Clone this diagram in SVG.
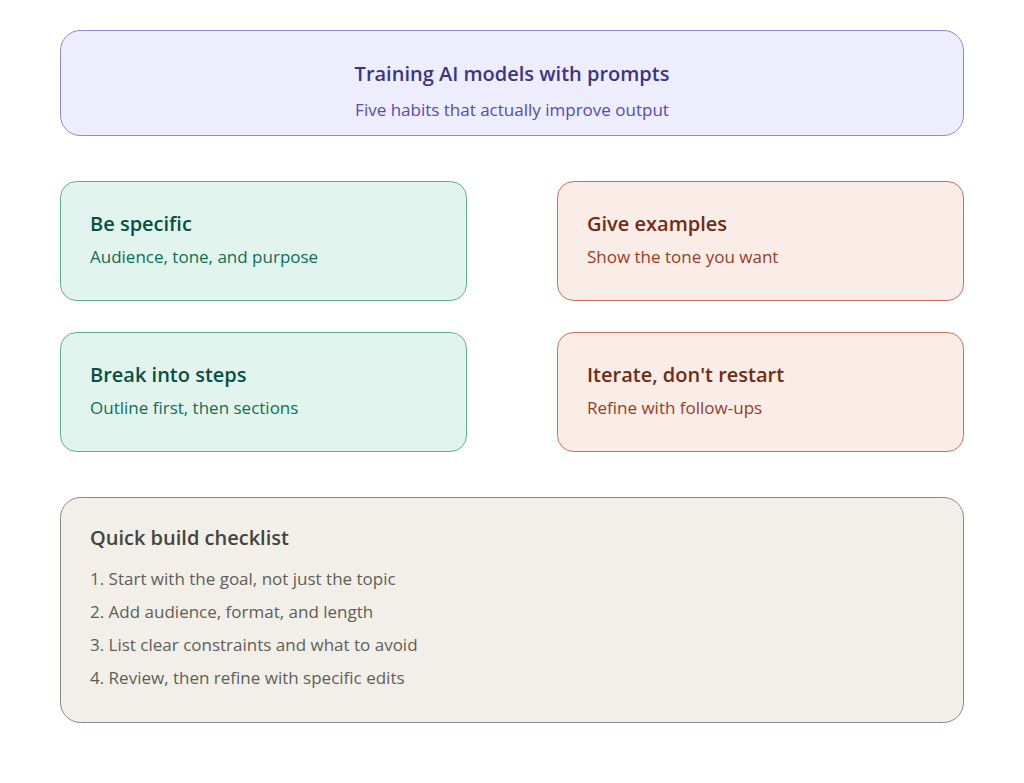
<svg xmlns="http://www.w3.org/2000/svg" width="1024" height="783" viewBox="0 0 1024 783">
<style>
text{font-family:"Open Sans","Noto Sans","Liberation Sans",sans-serif}
.t{font-size:20px;font-weight:600}
.s{font-size:17px;font-weight:400}
.purple rect{fill:#EEEDFE;stroke:#8E86D9}
.purple .t{fill:#3C3489}.purple .s{fill:#534AB7}
.green rect{fill:#E1F5EE;stroke:#5DAF8A}
.green .t{fill:#085041}.green .s{fill:#0F6E56}
.coral rect{fill:#FAECE7;stroke:#C0735A}
.coral .t{fill:#712B13}.coral .s{fill:#993C1D}
.gray rect{fill:#F1EFE8;stroke:#8A8983}
.gray .t{fill:#444441}.gray .s{fill:#5F5E5A}
rect{stroke-width:1}
</style>
<rect width="1024" height="783" fill="#ffffff"/>
<g id="header" class="purple">
<rect x="60.5" y="30.5" width="903" height="105" rx="20"/>
<text class="t" x="512" y="81" text-anchor="middle">Training AI models with prompts</text>
<text class="s" x="512" y="116" text-anchor="middle">Five habits that actually improve output</text>
</g>
<g id="be-specific" class="green">
<rect x="60.5" y="181.5" width="406" height="119" rx="16"/>
<text class="t" x="90" y="231">Be specific</text>
<text class="s" x="90" y="263">Audience, tone, and purpose</text>
</g>
<g id="give-examples" class="coral">
<rect x="557.5" y="181.5" width="406" height="119" rx="16"/>
<text class="t" x="587" y="231">Give examples</text>
<text class="s" x="587" y="263">Show the tone you want</text>
</g>
<g id="break-into-steps" class="green">
<rect x="60.5" y="332.5" width="406" height="119" rx="16"/>
<text class="t" x="90" y="382">Break into steps</text>
<text class="s" x="90" y="414">Outline first, then sections</text>
</g>
<g id="iterate" class="coral">
<rect x="557.5" y="332.5" width="406" height="119" rx="16"/>
<text class="t" x="587" y="382">Iterate, don't restart</text>
<text class="s" x="587" y="414">Refine with follow-ups</text>
</g>
<g id="checklist" class="gray">
<rect x="60.5" y="497.5" width="903" height="225" rx="20"/>
<text class="t" x="90" y="545">Quick build checklist</text>
<text class="s" x="90" y="585">1. Start with the goal, not just the topic</text>
<text class="s" x="90" y="618">2. Add audience, format, and length</text>
<text class="s" x="90" y="651">3. List clear constraints and what to avoid</text>
<text class="s" x="90" y="684">4. Review, then refine with specific edits</text>
</g>
<g id="connectors"></g>
</svg>
